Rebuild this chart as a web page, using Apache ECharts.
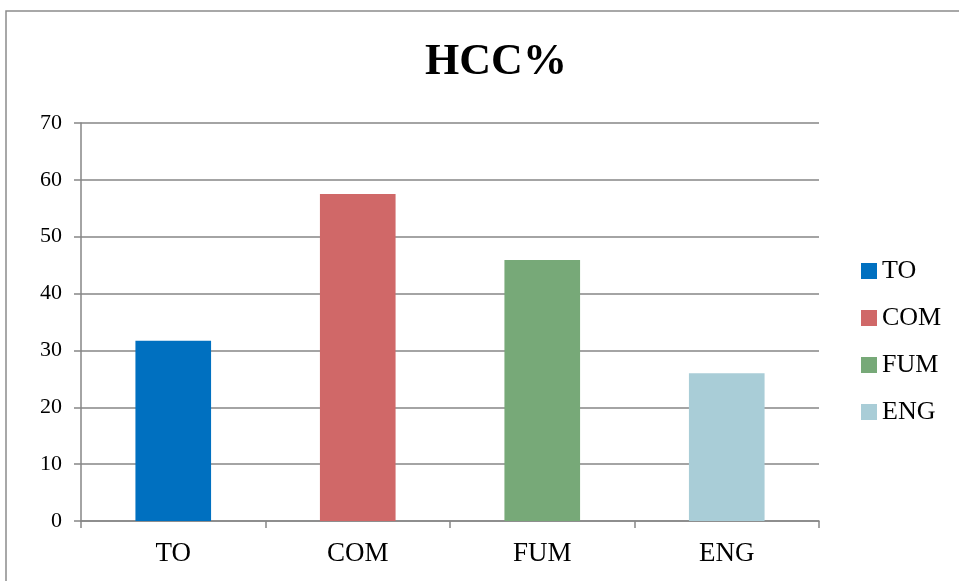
<!DOCTYPE html>
<html><head><meta charset="utf-8">
<script src="https://cdn.jsdelivr.net/npm/echarts@6/dist/echarts.min.js"></script>
<style>html,body{margin:0;padding:0;background:#fff}#c{width:959px;height:581px}</style>
</head><body><div id="c"></div>
<script>
var categories = ['TO', 'COM', 'FUM', 'ENG'];
var values = [31.7, 57.5, 45.9, 26.0];
var colors = ['#0070C0', '#D06868', '#77A978', '#A9CDD7'];
var yTicks = [0, 10, 20, 30, 40, 50, 60, 70];

var font = '"Liberation Serif", "DejaVu Serif", serif';
var series = categories.map(function (name, i) {
  return {
    name: name,
    type: 'bar',
    stack: 'all',
    barWidth: '41%',
    itemStyle: { color: colors[i] },
    data: categories.map(function (c, j) { return j === i ? values[i] : null; })
  };
});

var chart = echarts.init(document.getElementById('c'));
chart.setOption({
  animation: false,
  title: {
    text: 'HCC%', left: 491, top: 36, textAlign: 'center',
    textStyle: { fontFamily: font, fontWeight: 'bold', fontSize: 44, color: '#000' }
  },
  graphic: [{
    type: 'rect', shape: { x: 6, y: 11, width: 1000, height: 1000 },
    style: { fill: 'none', stroke: '#8c8c8c', lineWidth: 1.5 }, silent: true, z: -1
  }],
  legend: {
    orient: 'vertical', left: 856, top: 253, itemGap: 21,
    itemWidth: 16, itemHeight: 16, icon: 'rect',
    textStyle: { fontFamily: font, fontSize: 26, color: '#000', padding: [0, 0, 0, 0] },
    data: categories
  },
  grid: { left: 81, right: 140, top: 123, bottom: 60, containLabel: false },
  xAxis: {
    type: 'category', data: categories,
    axisLine: { lineStyle: { color: '#868686', width: 1.5 } },
    axisTick: { show: true, alignWithLabel: false, length: 7, lineStyle: { color: '#868686', width: 1.5 } },
    axisLabel: { fontFamily: font, fontSize: 27, color: '#000', margin: 19 }
  },
  yAxis: {
    type: 'value', min: 0, max: 70, interval: 10,
    axisLine: { show: true, lineStyle: { color: '#868686', width: 1.5 } },
    axisTick: { show: true, length: 7, lineStyle: { color: '#868686', width: 1.5 } },
    splitLine: { lineStyle: { color: '#868686', width: 1.5 } },
    axisLabel: {
      fontFamily: font, fontSize: 22, color: '#000', margin: 19,
      formatter: function (v) { return yTicks.indexOf(v) >= 0 ? String(v) : ''; }
    }
  },
  series: series
});
</script></body></html>
